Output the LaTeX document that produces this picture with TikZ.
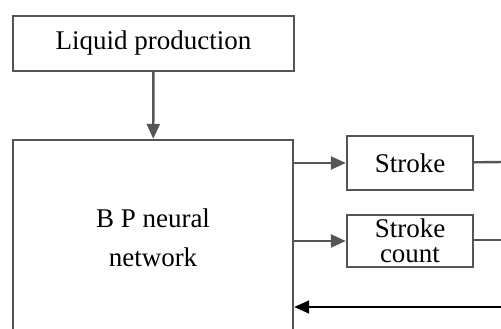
\documentclass[tikz,border=0pt]{standalone}
\usepackage{fontspec}
\setmainfont{Liberation Serif}
\usetikzlibrary{arrows.meta}
\definecolor{edgegray}{RGB}{85,85,85}
\begin{document}
\begin{tikzpicture}[x=1pt, y=-1pt, >={Triangle[length=15pt,width=13pt]},
    blockbox/.style={draw=edgegray, line width=2.4pt, fill=white, align=center,
        inner sep=0pt, font=\fontsize{27}{39}\selectfont},
    feedline/.style={draw=edgegray, line width=2.4pt}]
        \useasboundingbox (0,0) rectangle (501,329);
        \clip (0,0) rectangle (501,329);
        \node[blockbox, minimum width=281pt, minimum height=55pt] (liquid) at (153.5,43.5) {Liquid production};
        \node[blockbox, minimum width=280pt, minimum height=196pt] (bp) at (153,238) {B P neural\\network};
        \node[blockbox, minimum width=126pt, minimum height=54pt] (stroke) at (410,163) {Stroke};
        \node[blockbox, minimum width=126pt, minimum height=52pt, font=\fontsize{27}{25}\selectfont] (count) at (410,241) {Stroke\\count};
        \coordinate (strokeout) at (503,162);
        \coordinate (countout) at (503,240);
        \coordinate (fb) at (503,307);
        \draw[feedline,->] (liquid) -- (bp);
        \draw[feedline,->] (bp.east |- stroke) -- (stroke);
        \draw[feedline,->] (bp.east |- count) -- (count);
        \draw[feedline] (stroke) -- (strokeout);
        \draw[feedline] (count.east |- countout) -- (countout);
        \draw[->, line width=1.6pt] (fb) -- (bp.east |- fb);
\end{tikzpicture}
\end{document}
